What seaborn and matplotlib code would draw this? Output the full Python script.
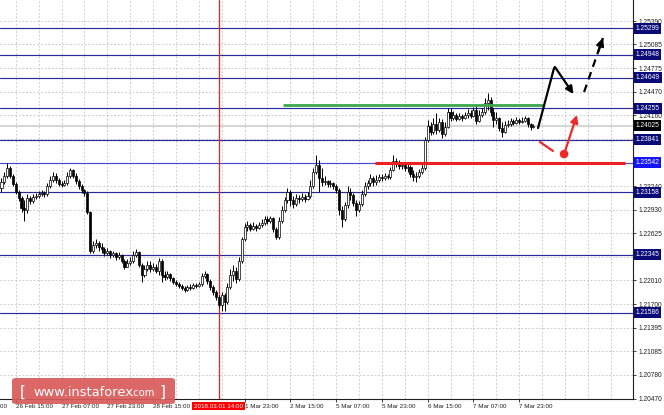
import matplotlib
matplotlib.use("Agg")
import matplotlib.pyplot as plt
import matplotlib.transforms as mtransforms
from matplotlib.patches import Rectangle, FancyBboxPatch
import seaborn as sns
import pandas as pd

# ---------------- data (prices in 1e-5 units, EURUSD H1) ----------------
first_open = 123220
close_pts = [
    123298,123376,123480,123376,123272,123168,123090,122960,122934,123090,
    123051,123103,123116,123142,123155,123142,123246,123324,123376,123324,
    123272,123259,123285,123376,123454,123376,123311,123246,123194,123155,
    122908,122388,122466,122492,122440,122414,122362,122388,122336,122362,
    122310,122336,122258,122180,122232,122258,122336,122375,122206,122076,
    122154,122206,122154,122180,122128,122258,122076,122050,122089,122037,
    121985,121959,121933,121907,121881,121920,121907,121946,121933,121959,
    122063,122089,121998,121920,121855,121790,121686,121816,121725,121920,
    122076,122128,122024,122258,122544,122700,122726,122674,122713,122687,
    122726,122752,122804,122778,122817,122674,122570,122778,122934,123064,
    123168,123064,123012,123090,123077,123103,123077,123116,123246,123428,
    123519,123350,123298,123311,123272,123285,123246,123194,122934,122804,
    122999,123168,123129,123025,122934,123012,123142,123246,123285,123350,
    123298,123324,123363,123350,123376,123363,123454,123571,123532,123506,
    123519,123480,123493,123402,123363,123376,123428,123480,123844,124026,
    123948,124052,123974,124078,123922,124013,124208,124130,124169,124117,
    124156,124130,124169,124195,124156,124234,124091,124169,124208,124325,
    124364,124208,124104,124130,124000,123948,124039,124052,124091,124065,
    124104,124078,124091,124130,124052,124013,124025]
high_pts = [
    123350,123428,123545,123506,123402,123298,123194,123116,123064,123142,
    123116,123142,123155,123181,123194,123181,123285,123376,123428,123415,
    123350,123311,123324,123428,123480,123467,123415,123337,123272,123207,
    123181,122921,122518,122544,122518,122492,122440,122427,122401,122388,
    122375,122375,122349,122284,122284,122310,122388,122414,122388,122232,
    122206,122258,122258,122232,122219,122297,122284,122128,122128,122102,
    122050,122011,121985,121959,121933,121946,121959,121972,121972,121985,
    122102,122128,122102,122024,121946,121881,121816,121855,121842,121972,
    122154,122206,122180,122310,122570,122752,122778,122752,122765,122739,
    122765,122804,122843,122856,122856,122830,122700,122830,122986,123103,
    123220,123194,123116,123142,123129,123155,123142,123168,123324,123480,
    123649,123584,123480,123376,123324,123324,123298,123272,123220,122986,
    123038,123246,123220,123155,123064,123051,123194,123298,123324,123402,
    123376,123389,123402,123402,123415,123402,123493,123649,123610,123584,
    123558,123545,123532,123519,123454,123428,123467,123545,123883,124104,
    124078,124130,124195,124130,124117,124078,124260,124260,124221,124195,
    124195,124182,124208,124247,124234,124273,124286,124234,124260,124390,
    124455,124403,124260,124208,124143,124078,124091,124104,124130,124117,
    124143,124130,124143,124156,124143,124065,124052]
low_pts = [
    123168,123272,123350,123350,123246,123142,123051,122908,122778,122895,
    123012,123025,123077,123090,123116,123103,123116,123220,123298,123285,
    123246,123233,123246,123259,123350,123350,123272,123207,123155,123116,
    122882,122362,122362,122427,122388,122362,122323,122336,122297,122310,
    122271,122284,122232,122154,122180,122206,122232,122310,122180,121985,
    122050,122128,122115,122128,122102,122076,121985,122011,122024,121998,
    121959,121933,121907,121881,121855,121868,121881,121894,121907,121920,
    121933,122037,121959,121881,121816,121751,121647,121608,121608,121699,
    121894,121998,121972,121998,122232,122518,122648,122648,122661,122648,
    122674,122700,122726,122739,122752,122635,122544,122544,122752,122908,
    123025,122986,122960,122986,123025,123051,123038,123064,123090,123220,
    123402,123168,123246,123259,123233,123233,123207,123155,122869,122700,
    122778,122960,123064,122986,122843,122908,122986,123116,123207,123246,
    123246,123259,123298,123311,123324,123337,123337,123441,123493,123467,
    123467,123441,123428,123363,123311,123298,123350,123402,123454,123818,
    123909,123922,123922,123948,123870,123896,124000,124091,124104,124091,
    124104,124091,124117,124130,124130,124143,124052,124078,124143,124182,
    124234,124156,124013,124052,123961,123883,123935,124013,124026,124039,
    124052,124052,124065,124078,124013,123974,124000]

level_prices = [1.25299, 1.24948, 1.24649, 1.24255, 1.23841, 1.23158, 1.22345, 1.21586]
blue_level = 1.23542
current_price = 1.24025
green_level, green_span = 1.24296, (98.4, 189.3)
red_level, red_span = 1.23542, (130.6, 218.0)
ytick_values = [1.25390, 1.25085, 1.24775, 1.24470, 1.24160, 1.23850, 1.23545, 1.23240,
                1.22930, 1.22625, 1.22315, 1.22010, 1.21700, 1.21395, 1.21085, 1.20780, 1.20470]
hidden_yticks = [1.23850, 1.23545, 1.22315]          # covered by level boxes
xtick_pos = [5, 21, 37, 53, 85, 101, 117, 133, 149, 165, 181]
xtick_labels = ["26 Feb 15:00", "27 Feb 07:00", "27 Feb 23:00", "28 Feb 15:00",
                "1 Mar 23:00", "2 Mar 15:00", "5 Mar 07:00", "5 Mar 23:00",
                "6 Mar 15:00", "7 Mar 07:00", "7 Mar 23:00"]
edge_tick_pos, edge_tick_label = -11, "25 Feb 23:00"
cursor_bar, cursor_label = 76, "2018.03.01 14:00"

# forecast sketch (bar index, price)
bull_path_x, bull_path_y = [187.6, 193.2], [1.23996, 1.24778]
pullback_x, pullback_y = [193.5, 200.0], [1.24791, 1.24439]
dash_up_x, dash_up_y = [203.7, 210.3], [1.24465, 1.25169]
red_seg_x, red_seg_y = [188.3, 192.8], [1.23814, 1.23697]
red_dot_x, red_dot_y = [196.7], [1.23657]
red_up_x, red_up_y = [196.7, 201.2], [1.23657, 1.24166]

# ---------------- figure ----------------
sns.set_theme(style="white")
plt.rcParams["font.family"] = ["Liberation Sans", "DejaVu Sans"]

W, H = 664, 415
fig = plt.figure(figsize=(W / 100, H / 100), dpi=100)
ax = fig.add_axes([0, 16 / H, 633 / W, 399 / H])
ax.set_facecolor("white")

df = pd.DataFrame({"close": [c / 1e5 for c in close_pts],
                   "high": [h / 1e5 for h in high_pts],
                   "low": [l / 1e5 for l in low_pts]})
df["open"] = [first_open / 1e5] + df["close"].tolist()[:-1]
df["bar"] = range(len(df))
df["high"] = df[["high", "open", "close"]].max(axis=1)
df["low"] = df[["low", "open", "close"]].min(axis=1)

XMIN, XMAX = -0.52, 220.8
YMIN, YMAX = 1.20465, 1.25664

grid_kw = dict(color="#c4c4c4", lw=0.6, dashes=(2.2, 2.2), zorder=0)
for v in ytick_values:
    ax.axhline(v, **grid_kw)
k = 5 - 8
while k < XMAX:
    ax.axvline(k, **grid_kw)
    k += 8

# levels
for p in level_prices:
    ax.axhline(p, color="#2a2aa0", lw=0.85, zorder=1)
ax.axhline(blue_level, color="#4a4ad0", lw=0.85, zorder=1)
ax.axhline(current_price, color="#d2d2d2", lw=1.3, zorder=1)

# candles
ax.vlines(df["bar"], df["low"], df["high"], color="black", lw=0.7, zorder=3)
bw = 0.72
for _, r in df.iterrows():
    lo = min(r["open"], r["close"])
    hgt = max(abs(r["close"] - r["open"]), 0.00004)
    up = r["close"] >= r["open"]
    ax.add_patch(Rectangle((r["bar"] - bw / 2, lo), bw, hgt,
                           facecolor="white" if up else "black",
                           edgecolor="black", lw=0.5, zorder=4))

# support / resistance marks
ax.hlines(green_level, *green_span, color="#3aa84a", lw=2.0, zorder=5)
ax.hlines(red_level, *red_span, color="#f01e1e", lw=2.2, zorder=5)

# cursor line
ax.axvline(cursor_bar, color="#ff1a1a", lw=0.9, zorder=2)

# forecast arrows
ax.plot(bull_path_x, bull_path_y, color="black", lw=1.6, zorder=6, solid_capstyle="round")
ax.annotate("", xy=(pullback_x[1], pullback_y[1]), xytext=(pullback_x[0], pullback_y[0]),
            arrowprops=dict(arrowstyle="-|>", color="black", lw=1.6, mutation_scale=11,
                            shrinkA=0, shrinkB=0), zorder=6)
ax.plot(dash_up_x, dash_up_y, color="black", lw=1.6, dashes=(3.5, 2.5), zorder=6)
ax.annotate("", xy=(dash_up_x[1], dash_up_y[1]),
            xytext=(dash_up_x[1] - 0.25 * (dash_up_x[1] - dash_up_x[0]),
                    dash_up_y[1] - 0.25 * (dash_up_y[1] - dash_up_y[0])),
            arrowprops=dict(arrowstyle="-|>", color="black", lw=1.6, mutation_scale=11,
                            shrinkA=0, shrinkB=0), zorder=6)
ax.plot(red_seg_x, red_seg_y, color="#f02828", lw=1.6, zorder=6)
ax.annotate("", xy=(red_up_x[1], red_up_y[1]), xytext=(red_up_x[0], red_up_y[0]),
            arrowprops=dict(arrowstyle="-|>", color="#f02828", lw=1.6, mutation_scale=11,
                            shrinkA=0, shrinkB=0), zorder=6)
sns.scatterplot(x=red_dot_x, y=red_dot_y, ax=ax, color="#f02828", s=38,
                edgecolor="none", zorder=7, legend=False)

# axes styling
for s in ["top", "left"]:
    ax.spines[s].set_visible(False)
for s in ["right", "bottom"]:
    ax.spines[s].set_color("#202020")
    ax.spines[s].set_linewidth(0.8)
ax.yaxis.tick_right()
ax.set_yticks(ytick_values)
ax.set_yticklabels(["" if v in hidden_yticks else f"{v:.5f}" for v in ytick_values])
ax.set_xticks(xtick_pos)
ax.set_xticklabels(xtick_labels)
for t in ax.get_xticklabels():
    t.set_ha("left")
ax.tick_params(axis="y", right=True, left=False, length=2.5, width=0.6, pad=1.5,
               labelsize=4.8, colors="#202020")
ax.tick_params(axis="x", bottom=True, length=2.5, width=0.6, pad=1.2,
               labelsize=4.5, colors="#202020")
ax.set_xlabel("")
ax.set_ylabel("")
ax.set_xlim(XMIN, XMAX)
ax.set_ylim(YMIN, YMAX)

ctr = mtransforms.blended_transform_factory(ax.transData, ax.transAxes)
ax.text(edge_tick_pos, -7.0 / 399, edge_tick_label, transform=ctr, ha="left", va="center",
        fontsize=4.5, color="#202020", clip_on=False)

# price boxes on the right scale
btr = mtransforms.blended_transform_factory(ax.transAxes, ax.transData)
def price_box(p, fc):
    ax.text(1.0 + 2.5 / 633, p, f"{p:.5f}", transform=btr, ha="left", va="center",
            color="white", fontsize=4.8, clip_on=False, zorder=20,
            bbox=dict(boxstyle="square,pad=0.3", fc=fc, ec="none"))
for p in level_prices:
    price_box(p, "#0a0a78")
price_box(blue_level, "#1414ff")
price_box(current_price, "#000000")

# cursor date box
ax.text(cursor_bar, -7.0 / 399, cursor_label, transform=ctr, ha="center", va="center",
        color="white", fontsize=4.5, clip_on=False, zorder=20,
        bbox=dict(boxstyle="square,pad=0.3", fc="#ff0000", ec="none"))

# watermark
fig.patches.append(FancyBboxPatch((12 / W, 11 / H), 163 / W, 26 / H,
                                  boxstyle="round,pad=0,rounding_size=0.006",
                                  transform=fig.transFigure, fc="#d85a5a", ec="none",
                                  alpha=0.92, zorder=30))
wm = dict(color="white", va="center", zorder=31, family="DejaVu Sans")
fig.text(20 / W, 23 / H, "[", fontsize=11, **wm)
fig.text(33 / W, 23 / H, "www.instaforex", fontsize=9.4, **wm)
fig.text(131 / W, 22 / H, ".com", fontsize=7.2, **wm)
fig.text(160 / W, 23 / H, "]", fontsize=11, **wm)

fig.savefig("out.png", dpi=100)
